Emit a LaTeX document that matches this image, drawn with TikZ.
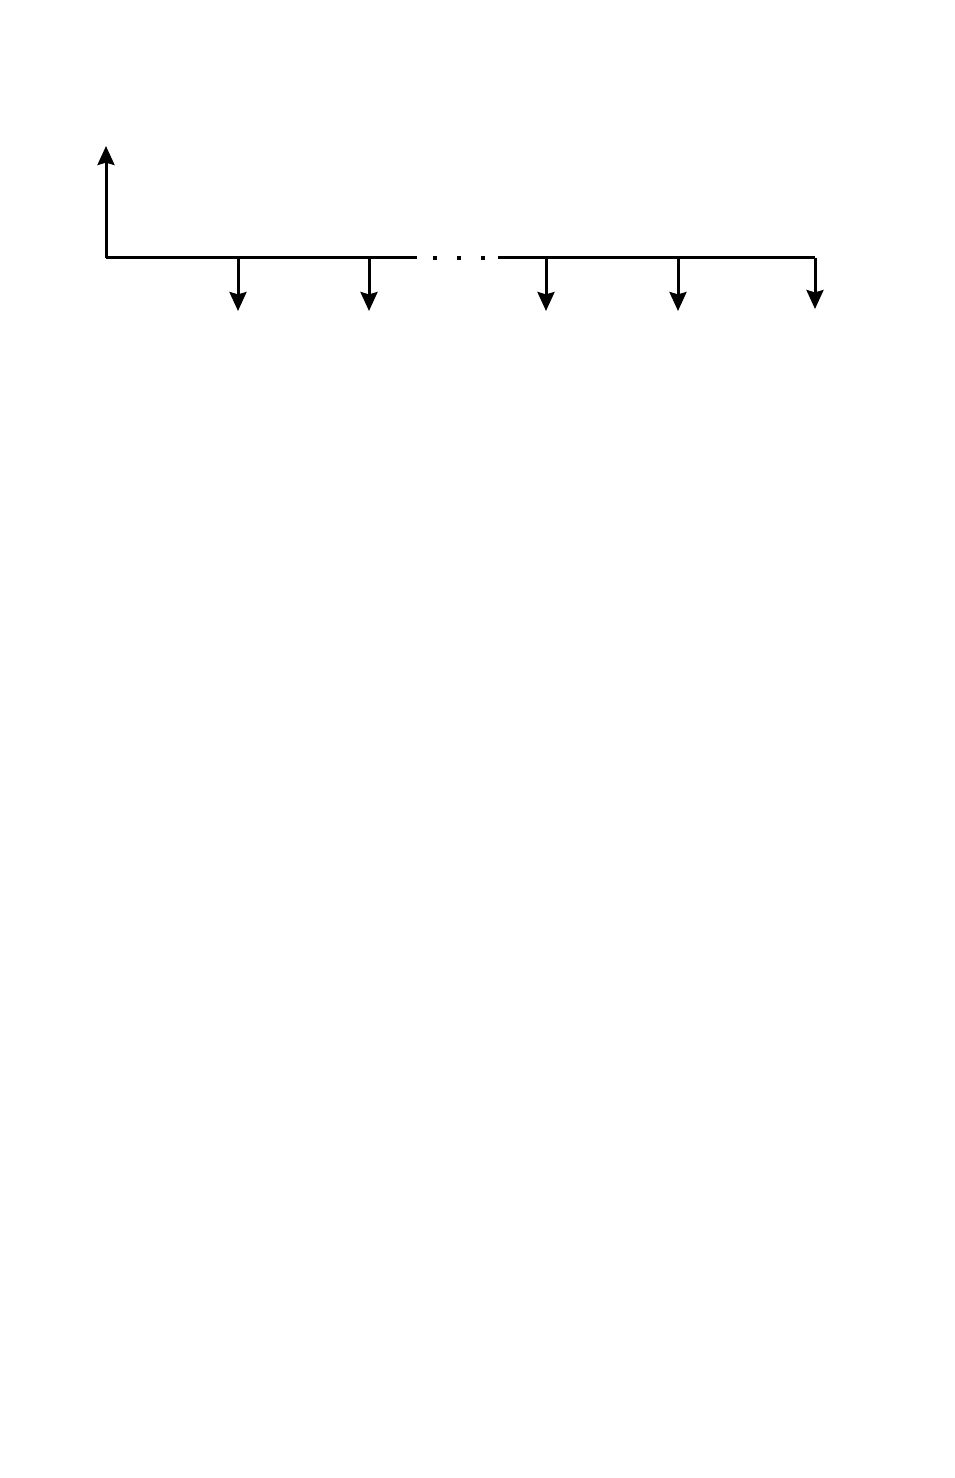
\documentclass[tikz,border=0pt]{standalone}
\usepackage{tikz}
\usetikzlibrary{arrows.meta,positioning}

\begin{document}
\begin{tikzpicture}[x=0.5pt, y=-0.5pt, line width=1.5pt,
    flow/.style={-{Stealth[length=9.5pt, width=8.5pt, inset=1.2pt]}},
    dotmark/.style={fill=black, inner sep=0pt, minimum size=2pt}]
           \useasboundingbox (0,0) rectangle (954,1478);
           % time axis
           \coordinate (t0) at (106,257.5);
           \coordinate (t1) at (238,257.5);
           \coordinate (t2) at (369,257.5);
           \coordinate (gapL) at (417,257.5);
           \coordinate (gapR) at (498,257.5);
           \coordinate (t3) at (546,257.5);
           \coordinate (t4) at (678,257.5);
           \coordinate (tn) at (815,257.5);
           \draw (t0) -- (gapL);
           \draw (gapR) -- (tn);
           \node[dotmark] (d1) at (435,257.5) {};
           \node[dotmark] (d2) at (459,257.5) {};
           \node[dotmark] (d3) at (483,257.5) {};
           % receipt
           \coordinate (in0) at (106,146);
           \draw[flow] (t0) -- (in0);
           % payments
           \coordinate (out1) at (238,311);
           \coordinate (out2) at (369,311);
           \coordinate (out3) at (546,311);
           \coordinate (out4) at (678,311);
           \coordinate (outn) at (815,309);
           \draw[flow] (t1) -- (out1);
           \draw[flow] (t2) -- (out2);
           \draw[flow] (t3) -- (out3);
           \draw[flow] (t4) -- (out4);
           \draw[flow] (tn) -- (outn);
        \end{tikzpicture}
\end{document}
